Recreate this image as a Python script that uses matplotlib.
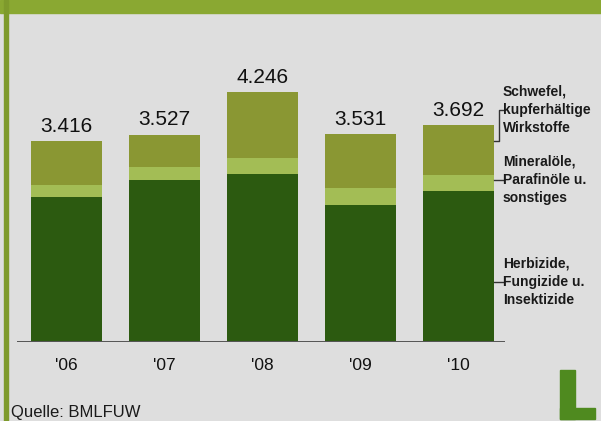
import matplotlib
matplotlib.use("Agg")
import matplotlib.pyplot as plt
from matplotlib.patches import Rectangle
from matplotlib.lines import Line2D

years = ["'06", "'07", "'08", "'09", "'10"]
totals = [3416, 3527, 4246, 3531, 3692]
herbizide = [2465, 2754, 2856, 2329, 2567]
mineraloele = [204, 221, 272, 289, 272]
schwefel = [t - h - m for t, h, m in zip(totals, herbizide, mineraloele)]
total_labels = ["3.416", "3.527", "4.246", "3.531", "3.692"]
legend_labels = ["Schwefel,\nkupferhältige\nWirkstoffe",
                 "Mineralöle,\nParafinöle u.\nsonstiges",
                 "Herbizide,\nFungizide u.\nInsektizide"]
source = "Quelle: BMLFUW"

W, H = 601, 421
bg = "#dedede"
c_dark = "#2c5a10"
c_light = "#a3bd55"
c_top = "#8a9733"
c_frame = "#8aa832"

plt.rcParams['font.family'] = ['Liberation Sans', 'DejaVu Sans']
fig = plt.figure(figsize=(W / 100, H / 100), dpi=100, facecolor=bg)

def fx(px):
    return px / W

def fy(py):
    return 1 - py / H

# axes: left 17px, right 505px, bottom 342px, top 60px
ax = fig.add_axes([fx(17), fy(342), fx(505 - 17), (342 - 60) / H])
ax.set_facecolor("none")
ax.set_xlim(-0.505, 4.474)
ax.set_ylim(0, 282 * 17.0)
for s in ax.spines.values():
    s.set_visible(False)
ax.set_xticks([])
ax.set_yticks([])

x = list(range(len(years)))
bw = 0.724
ax.bar(x, herbizide, width=bw, color=c_dark, zorder=2)
ax.bar(x, mineraloele, width=bw, bottom=herbizide, color=c_light, zorder=2)
bottoms = [h + m for h, m in zip(herbizide, mineraloele)]
ax.bar(x, schwefel, width=bw, bottom=bottoms, color=c_top, zorder=2)
ax.axhline(0, color="#555555", lw=1.4, zorder=3)

for xi, t, lab in zip(x, totals, total_labels):
    ax.text(xi, t + 90, lab, ha="center", va="bottom", fontsize=15, color="#111111")
    ax.text(xi, -24 * 17, years[xi], ha="center", va="center", fontsize=12.5, color="#111111")

# legend texts with connectors (figure pixel coordinates)
txt_x = 503
centers = [110, 180, 282]
for lab, cy in zip(legend_labels, centers):
    fig.text(fx(txt_x), fy(cy), lab, ha="left", va="center", fontsize=10,
             fontweight="bold", color="#1a1a1a", linespacing=1.4)

lc = "#333333"
fig.add_artist(Line2D([fx(503), fx(499), fx(499), fx(494)],
                      [fy(110), fy(110), fy(141), fy(141)], color=lc, lw=1))
fig.add_artist(Line2D([fx(494), fx(503)], [fy(180), fy(180)], color=lc, lw=1))
fig.add_artist(Line2D([fx(494), fx(503)], [fy(282), fy(282)], color=lc, lw=1))

fig.text(fx(11), fy(413), source, ha="left", va="center", fontsize=12, color="#1a1a1a")

# frame: top bar and left border
fig.add_artist(Rectangle((0, fy(13)), 1, 13 / H, transform=fig.transFigure,
                         color=c_frame, zorder=0))
fig.add_artist(Rectangle((fx(4), 0), 4 / W, 1, transform=fig.transFigure,
                         color="#7e9a2c", zorder=0))

# L logo
lg = "#4f8a1f"
fig.add_artist(Rectangle((fx(560), fy(419)), 15 / W, 49 / H, transform=fig.transFigure, color=lg))
fig.add_artist(Rectangle((fx(560), fy(419)), 35 / W, 11 / H, transform=fig.transFigure, color=lg))

fig.savefig("out.png", dpi=100, facecolor=bg)
